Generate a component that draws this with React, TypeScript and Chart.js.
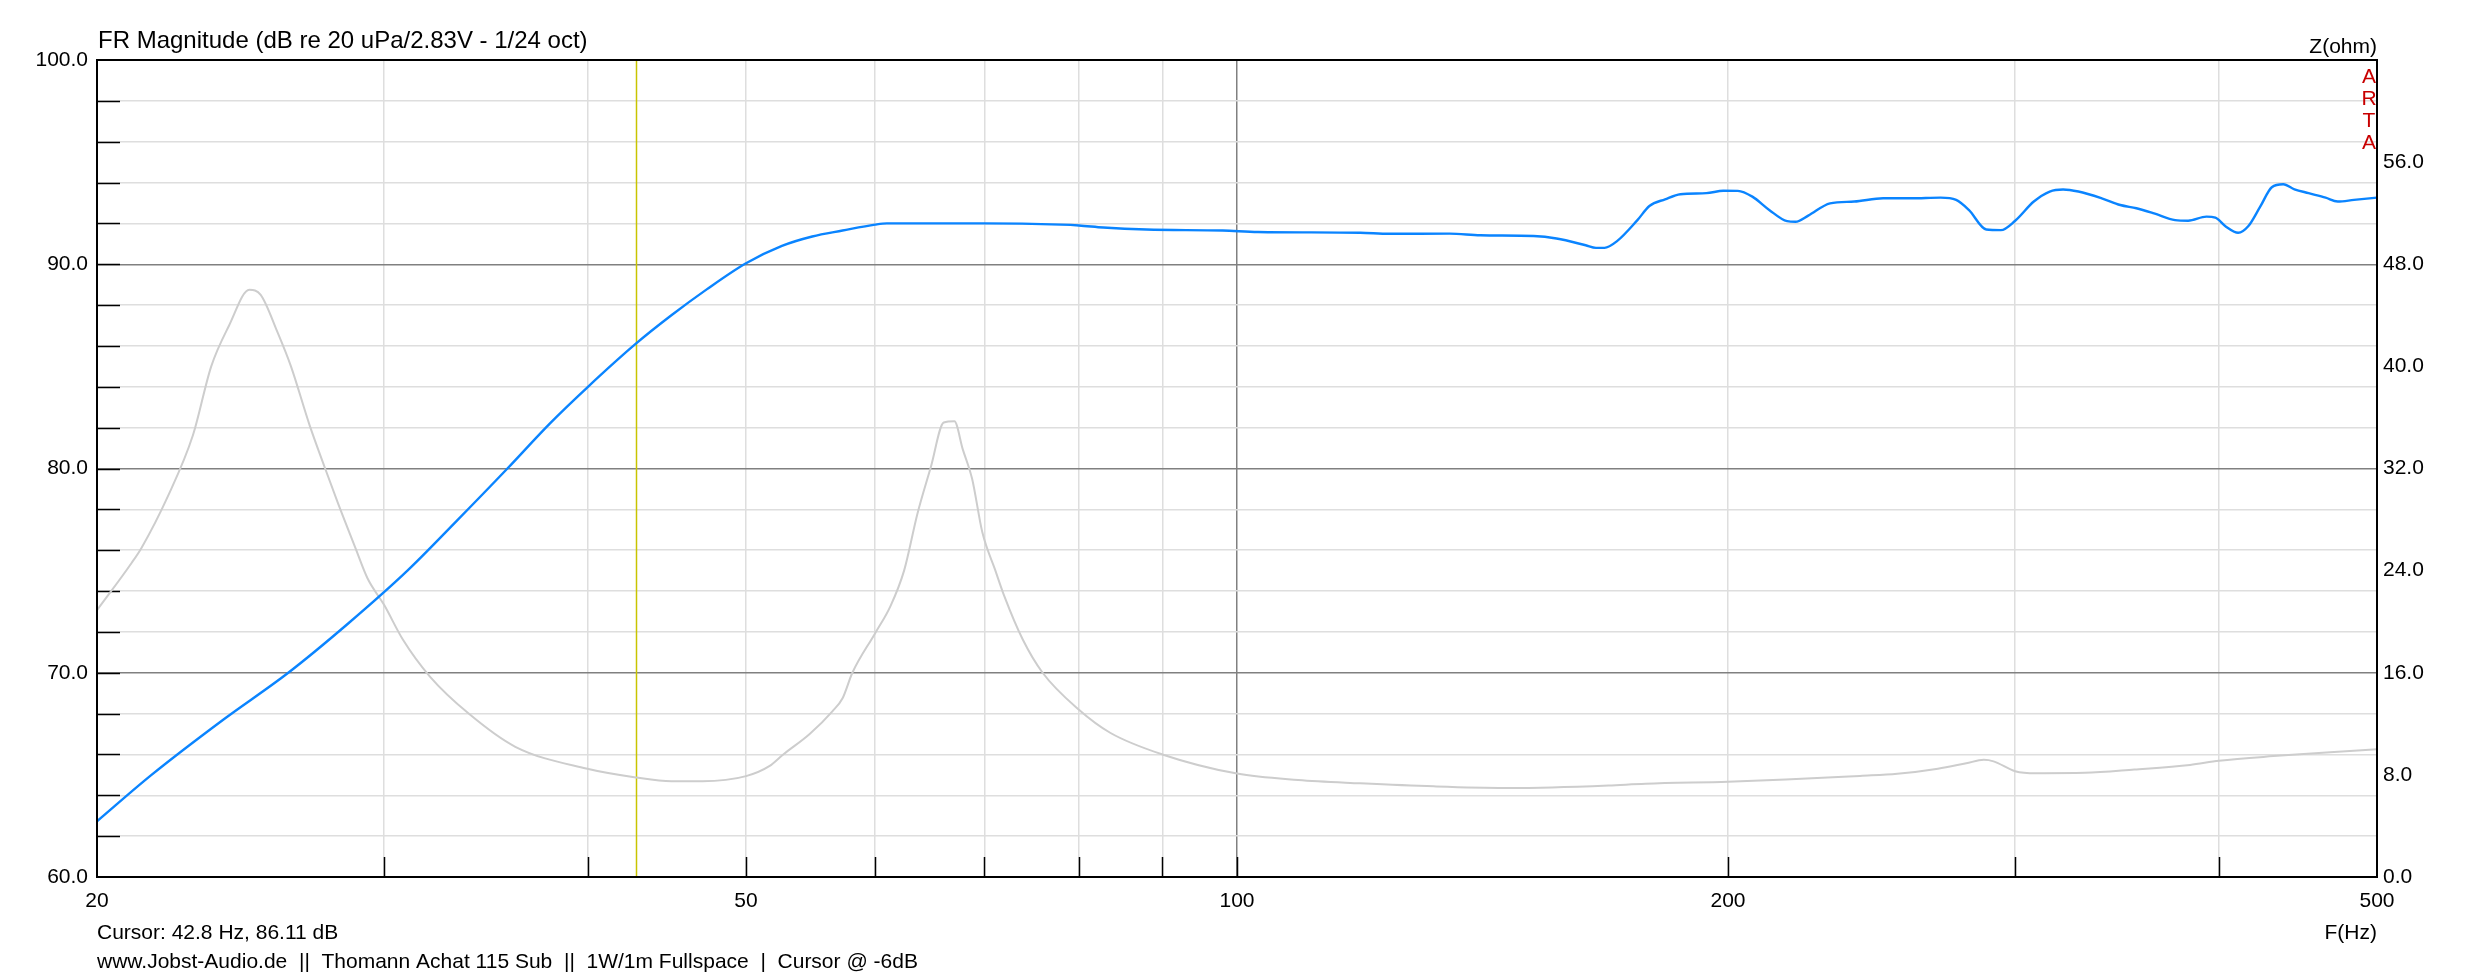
import React, { useEffect, useRef } from 'react';
import { Chart, registerables } from 'chart.js';

Chart.register(...registerables);

// ---------- data ----------
const splFreqs = [20, 21.6, 23.9, 26.2, 28.5, 31.0, 33.2, 35.7, 37.9, 40, 42.8, 45, 47.3, 50, 52.6, 54.9, 57.3, 60, 61, 70, 78, 80, 82.8, 88, 98, 103, 119, 124, 135, 141, 152, 157, 163.6, 166, 168, 171, 176, 179, 183, 187, 194, 198.7, 202.8, 207, 212, 217.4, 220, 224, 231, 239, 249, 259, 270, 276, 281, 288, 294, 300, 308, 315, 321, 328, 339, 348, 356, 365, 376, 383, 393, 398, 404, 411, 417, 424, 431, 438, 445, 454, 465, 473, 484, 500];
const splDb = [62.73, 65.0, 67.7, 70.0, 72.4, 75.0, 77.4, 80.0, 82.2, 84.0, 86.11, 87.5, 88.77, 90.05, 90.9, 91.36, 91.65, 91.94, 92.0, 92.0, 91.94, 91.9, 91.8, 91.7, 91.65, 91.58, 91.54, 91.49, 91.5, 91.42, 91.38, 91.26, 90.93, 90.8, 90.8, 91.13, 92.16, 92.85, 93.18, 93.43, 93.48, 93.6, 93.59, 93.31, 92.66, 92.11, 92.08, 92.38, 92.98, 93.07, 93.23, 93.23, 93.26, 93.15, 92.66, 91.7, 91.67, 92.13, 93.07, 93.56, 93.66, 93.56, 93.23, 92.9, 92.74, 92.49, 92.16, 92.13, 92.33, 92.28, 91.84, 91.54, 91.87, 92.82, 93.77, 93.92, 93.67, 93.48, 93.26, 93.07, 93.15, 93.26];

const zFreqs = [20, 21.0, 21.3, 22.1, 22.9, 23.5, 24.1, 24.8, 25.2, 25.8, 26.3, 27.0, 27.6, 28.1, 28.8, 29.3, 30, 30.8, 32, 33.8, 36.1, 39.9, 42.8, 45, 47, 50, 51.7, 52.7, 54.7, 56.5, 57.3, 58.1, 60, 61.3, 62.5, 63.7, 64.9, 66.1, 67.1, 67.9, 68.8, 69.8, 71.1, 72.0, 73.9, 76, 80, 83.6, 90, 100, 109, 119, 132, 146, 156, 169, 178, 200, 217, 241, 254, 269, 280, 287, 291, 300, 309, 331, 355, 384, 400, 432, 468, 500];
const zOhm = [20.9, 24.6, 25.8, 29.8, 34.6, 40.0, 43.2, 46.0, 45.6, 42.7, 40.0, 35.4, 32.0, 29.3, 25.8, 23.4, 21.3, 18.6, 15.7, 12.8, 10.2, 8.5, 7.8, 7.5, 7.5, 7.9, 8.7, 9.6, 11.2, 13.0, 14.0, 16.0, 19.1, 21.2, 24.0, 28.5, 32.1, 35.6, 35.7, 33.5, 31.2, 27.0, 24.0, 22.0, 18.6, 16.0, 13.1, 11.3, 9.6, 8.1, 7.6, 7.34, 7.1, 6.98, 7.02, 7.17, 7.31, 7.47, 7.63, 7.92, 8.08, 8.48, 8.91, 9.18, 9.06, 8.29, 8.13, 8.16, 8.42, 8.78, 9.1, 9.47, 9.78, 10.0];

const xTickValues = [20, 30, 40, 50, 60, 70, 80, 90, 100, 200, 300, 400, 500];
const xLabelled = [20, 50, 100, 200, 500];
const cursorFreq = 42.8;

const TITLE = 'FR Magnitude (dB re 20 uPa/2.83V - 1/24 oct)';
const RIGHT_TITLE = 'Z(ohm)';
const X_TITLE = 'F(Hz)';
const CURSOR_TEXT = 'Cursor: 42.8 Hz, 86.11 dB';
const FOOTER_TEXT = 'www.Jobst-Audio.de  ||  Thomann Achat 115 Sub  ||  1W/1m Fullspace  |  Cursor @ -6dB';
const WATERMARK = ['A', 'R', 'T', 'A'];

const FONT = '"Liberation Sans", Arial, sans-serif';
const W = 2473;
const H = 978;

const artaPlugin = {
  id: 'artaDecor',
  beforeDatasetsDraw(chart: any) {
    const { ctx, chartArea: a, scales } = chart;
    const xs = scales.x;
    const ys = scales.y;
    ctx.save();
    ctx.strokeStyle = '#000';
    ctx.lineWidth = 1.5;
    ctx.beginPath();
    for (const t of ys.ticks) {
      if (t.value <= ys.min || t.value >= ys.max) continue;
      const py = Math.round(ys.getPixelForValue(t.value)) + 0.5;
      ctx.moveTo(a.left, py);
      ctx.lineTo(a.left + 23, py);
    }
    for (const v of xTickValues) {
      if (v <= xs.min || v >= xs.max) continue;
      const px = Math.round(xs.getPixelForValue(v)) + 0.5;
      ctx.moveTo(px, a.bottom);
      ctx.lineTo(px, a.bottom - 20);
    }
    ctx.stroke();
    // cursor line
    ctx.strokeStyle = '#c8c400';
    ctx.lineWidth = 1.5;
    const cx = Math.round(xs.getPixelForValue(cursorFreq)) + 0.5;
    ctx.beginPath();
    ctx.moveTo(cx, a.top);
    ctx.lineTo(cx, a.bottom);
    ctx.stroke();
    ctx.restore();
  },
  afterDatasetsDraw(chart: any) {
    const { ctx, chartArea: a } = chart;
    ctx.save();
    ctx.strokeStyle = '#000';
    ctx.lineWidth = 2;
    ctx.strokeRect(a.left, a.top, a.right - a.left, a.bottom - a.top);
    ctx.restore();
  },
  afterDraw(chart: any) {
    const { ctx, chartArea: a } = chart;
    ctx.save();
    ctx.fillStyle = '#000';
    ctx.textBaseline = 'alphabetic';
    ctx.font = `24px ${FONT}`;
    ctx.textAlign = 'left';
    ctx.fillText(TITLE, a.left + 1, 48);
    ctx.font = `21px ${FONT}`;
    ctx.textAlign = 'right';
    ctx.fillText(RIGHT_TITLE, a.right, 53);
    ctx.fillText(X_TITLE, a.right, 939);
    ctx.textAlign = 'left';
    ctx.fillText(CURSOR_TEXT, a.left, 939);
    ctx.fillText(FOOTER_TEXT, a.left, 968);
    ctx.fillStyle = '#c80000';
    ctx.font = `21px ${FONT}`;
    ctx.textAlign = 'center';
    WATERMARK.forEach((ch, i) => {
      ctx.fillText(ch, a.right - 8, 83 + i * 21.9);
    });
    ctx.restore();
  },
};

export default function App() {
  const ref = useRef<HTMLCanvasElement | null>(null);

  useEffect(() => {
    if (!ref.current) return;
    const chart = new Chart(ref.current, {
      type: 'line',
      data: {
        datasets: [
          {
            label: 'SPL',
            data: splFreqs.map((f, i) => ({ x: f, y: splDb[i] })),
            borderColor: '#0a84ff',
            borderWidth: 2.4,
            pointRadius: 0,
            cubicInterpolationMode: 'monotone',
            yAxisID: 'y',
            order: 0,
          },
          {
            label: 'Z',
            data: zFreqs.map((f, i) => ({ x: f, y: zOhm[i] })),
            borderColor: '#cdcdcd',
            borderWidth: 2,
            pointRadius: 0,
            cubicInterpolationMode: 'monotone',
            yAxisID: 'y2',
            order: 1,
          },
        ],
      },
      options: {
        animation: false,
        responsive: false,
        maintainAspectRatio: false,
        devicePixelRatio: 1,
        layout: { padding: { top: 60, left: 0, right: 0, bottom: 0 } },
        plugins: {
          legend: { display: false },
          tooltip: { enabled: false },
          title: { display: false },
        },
        scales: {
          x: {
            type: 'logarithmic',
            min: 20,
            max: 500,
            afterBuildTicks: (s: any) => {
              s.ticks = xTickValues.map((v) => ({ value: v }));
            },
            afterFit: (s: any) => {
              s.height = 101;
            },
            ticks: {
              autoSkip: false,
              maxRotation: 0,
              minRotation: 0,
              padding: 12,
              color: '#000',
              font: { family: FONT, size: 21 },
              callback: (v: any) => (xLabelled.includes(Number(v)) ? String(v) : ''),
            },
            grid: {
              drawTicks: false,
              color: (c: any) => (c.tick && c.tick.value === 100 ? '#808080' : '#dedede'),
              lineWidth: 1.5,
            },
            border: { display: false },
          },
          y: {
            type: 'linear',
            position: 'left',
            min: 60,
            max: 100,
            afterFit: (s: any) => {
              s.width = 97;
            },
            ticks: {
              stepSize: 1,
              padding: 9,
              color: '#000',
              font: { family: FONT, size: 21 },
              callback: (v: any) => (Number(v) % 5 === 0 ? Number(v).toFixed(1) : ''),
            },
            grid: {
              drawTicks: false,
              color: (c: any) => (c.tick && c.tick.value % 5 === 0 ? '#808080' : '#dedede'),
              lineWidth: 1.5,
            },
            border: { display: false },
          },
          y2: {
            type: 'linear',
            position: 'right',
            min: 0,
            max: 64,
            afterFit: (s: any) => {
              s.width = 96;
            },
            ticks: {
              stepSize: 8,
              padding: 6,
              color: '#000',
              font: { family: FONT, size: 21 },
              callback: (v: any) => (Number(v) < 64 ? Number(v).toFixed(1) : ''),
            },
            grid: { drawOnChartArea: false, drawTicks: false },
            border: { display: false },
          },
        },
      },
      plugins: [artaPlugin],
    } as any);
    return () => chart.destroy();
  }, []);

  return (
    <div style={{ position: 'fixed', left: 0, top: 0, width: W, height: H, background: '#fff' }}>
      <canvas ref={ref} width={W} height={H} style={{ width: W, height: H, display: 'block' }} />
    </div>
  );
}
